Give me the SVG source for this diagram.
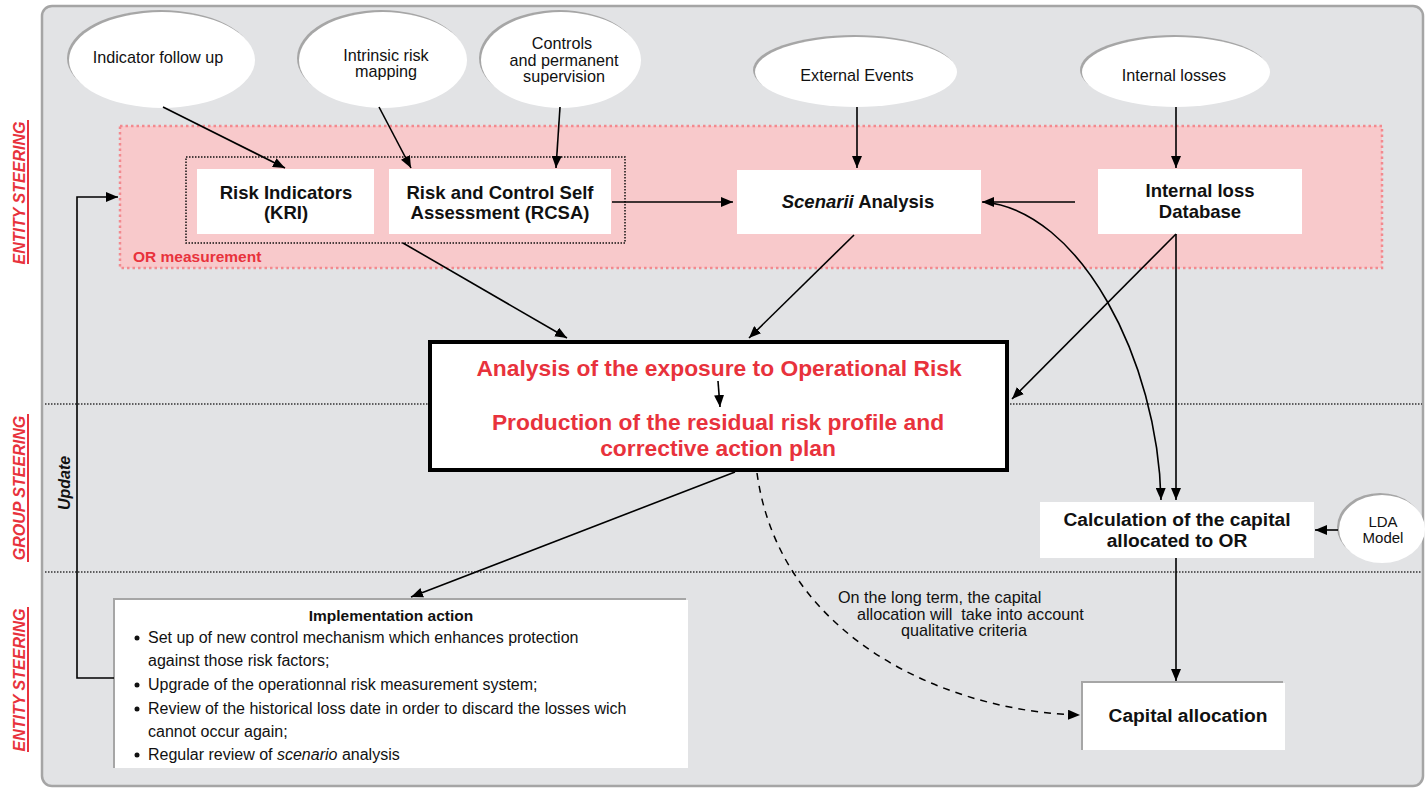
<svg xmlns="http://www.w3.org/2000/svg" width="1426" height="789" viewBox="0 0 1426 789">
<defs>
<style>
text{font-family:"Liberation Sans",Arial,Helvetica,sans-serif;fill:#111}
.reg{font-size:16.2px}
.bold{font-size:18.5px;font-weight:bold}
.bold2{font-size:19.2px;font-weight:bold}
.red{font-size:22.8px;font-weight:bold;fill:#e8323c}
.side{font-size:16px;font-weight:bold;font-style:italic;fill:#e8323c}
.imp{font-size:16px}
.box{fill:#fff}
.shadow{fill:#a6a6a6}
.conn{fill:none;stroke:#000;stroke-width:1.6}
.dash{fill:none;stroke:#000;stroke-width:1.5;stroke-dasharray:7,6}
.sep{fill:none;stroke:#333;stroke-width:1.3;stroke-dasharray:1.5,1.5}
</style>
<marker id="ah" viewBox="0 0 12 10" refX="12" refY="5" markerWidth="12" markerHeight="10" markerUnits="userSpaceOnUse" orient="auto"><path d="M0,0 L12,5 L0,10 z" fill="#000"/></marker>
</defs>

<!-- background panel -->
<rect x="42" y="6" width="1381" height="780" rx="10" fill="#e2e3e5" stroke="#a5a5a5" stroke-width="2.5"/>

<!-- side labels -->
<g id="side-labels">
<text class="side" transform="translate(25,193) rotate(-90)" text-anchor="middle">ENTITY STEERING</text>
<line x1="28" y1="120" x2="28" y2="264" stroke="#e8323c" stroke-width="2"/>
<text class="side" transform="translate(25,488) rotate(-90)" text-anchor="middle">GROUP STEERING</text>
<line x1="28" y1="414" x2="28" y2="562" stroke="#e8323c" stroke-width="2"/>
<text class="side" transform="translate(25,680) rotate(-90)" text-anchor="middle">ENTITY STEERING</text>
<line x1="28" y1="607" x2="28" y2="752" stroke="#e8323c" stroke-width="2"/>
</g>

<!-- separators -->
<g id="separators">
<line class="sep" x1="45" y1="404" x2="428" y2="404"/>
<line class="sep" x1="1010" y1="404" x2="1422" y2="404"/>
<line class="sep" x1="45" y1="572" x2="1422" y2="572"/>
</g>

<!-- OR measurement area -->
<g id="or-measurement">
<rect x="120" y="126" width="1262" height="142" fill="#f8c9cb" stroke="#f28a8f" stroke-width="2.5" stroke-dasharray="2.5,3"/>
<text x="133" y="262" style="font-size:15.5px;font-weight:bold;fill:#e8323c">OR measurement</text>
<rect x="186" y="157" width="439" height="86" fill="none" stroke="#111" stroke-width="1.5" stroke-dasharray="1.5,1.5"/>
</g>

<!-- ellipses -->
<g id="indicator-follow-up">
<ellipse cx="160" cy="58" rx="93" ry="48" class="shadow"/>
<ellipse cx="162" cy="60" rx="93" ry="48" class="box"/>
<text class="reg" x="158" y="63" text-anchor="middle">Indicator follow up</text>
</g>
<g id="intrinsic-risk-mapping">
<ellipse cx="381" cy="58" rx="84" ry="48" class="shadow"/>
<ellipse cx="383" cy="60" rx="84" ry="48" class="box"/>
<text class="reg" x="386" y="61" text-anchor="middle">Intrinsic risk</text>
<text class="reg" x="386" y="77" text-anchor="middle">mapping</text>
</g>
<g id="controls">
<ellipse cx="559" cy="58" rx="80" ry="48" class="shadow"/>
<ellipse cx="561" cy="60" rx="80" ry="48" class="box"/>
<text class="reg" x="562" y="49" text-anchor="middle">Controls</text>
<text class="reg" x="564" y="66" text-anchor="middle">and permanent</text>
<text class="reg" x="564" y="82" text-anchor="middle">supervision</text>
</g>
<g id="external-events">
<ellipse cx="854" cy="70" rx="101" ry="35" class="shadow"/>
<ellipse cx="856" cy="72" rx="101" ry="35" class="box"/>
<text class="reg" x="857" y="81" text-anchor="middle">External Events</text>
</g>
<g id="internal-losses">
<ellipse cx="1174" cy="70" rx="94" ry="35" class="shadow"/>
<ellipse cx="1176" cy="72" rx="94" ry="35" class="box"/>
<text class="reg" x="1174" y="81" text-anchor="middle">Internal losses</text>
</g>
<g id="lda-model">
<ellipse cx="1380" cy="527" rx="43" ry="34" class="shadow"/>
<ellipse cx="1382" cy="529" rx="43" ry="34" class="box"/>
<text x="1383" y="527" text-anchor="middle" style="font-size:15px">LDA</text>
<text x="1383" y="543" text-anchor="middle" style="font-size:15px">Model</text>
</g>

<!-- boxes -->
<g id="kri">
<rect x="197" y="169" width="177" height="65" class="box"/>
<text class="bold" x="286" y="199" text-anchor="middle">Risk Indicators</text>
<text class="bold" x="286" y="219" text-anchor="middle">(KRI)</text>
</g>
<g id="rcsa">
<rect x="389" y="169" width="222" height="65" class="box"/>
<text class="bold" x="500" y="199" text-anchor="middle">Risk and Control Self</text>
<text class="bold" x="500" y="219" text-anchor="middle">Assessment (RCSA)</text>
</g>
<g id="scenarii">
<rect x="737" y="170" width="244" height="64" class="box"/>
<text class="bold" x="858" y="208" text-anchor="middle"><tspan font-style="italic">Scenarii</tspan> Analysis</text>
</g>
<g id="internal-loss-db">
<rect x="1098" y="169" width="204" height="65" class="box"/>
<text class="bold" x="1200" y="197" text-anchor="middle">Internal loss</text>
<text class="bold" x="1200" y="218" text-anchor="middle">Database</text>
</g>
<g id="analysis">
<rect x="430" y="342" width="577" height="128" fill="#fff" stroke="#000" stroke-width="4"/>
<text class="red" x="719" y="376" text-anchor="middle">Analysis of the exposure to Operational Risk</text>
<line x1="718" y1="381" x2="720" y2="407" stroke="#000" stroke-width="1.6" marker-end="url(#ah)"/>
<text class="red" x="718" y="430" text-anchor="middle">Production of the residual risk profile and</text>
<text class="red" x="718" y="456" text-anchor="middle">corrective action plan</text>
</g>
<g id="calculation">
<rect x="1040" y="502" width="274" height="56" class="box"/>
<text class="bold2" x="1177" y="526" text-anchor="middle">Calculation of the capital</text>
<text class="bold2" x="1177" y="547" text-anchor="middle">allocated to OR</text>
</g>
<g id="capital-allocation">
<rect x="1081" y="681" width="202" height="69" class="shadow"/>
<rect x="1083" y="683" width="202" height="67" class="box"/>
<text class="bold2" x="1188" y="722" text-anchor="middle">Capital allocation</text>
</g>
<g id="implementation">
<rect x="113" y="598" width="573" height="170" class="shadow"/>
<rect x="115" y="600" width="573" height="168" class="box"/>
<text x="391" y="621" text-anchor="middle" style="font-size:15.5px;font-weight:bold">Implementation action</text>
<circle cx="137" cy="638" r="2.5" fill="#111"/>
<text class="imp" x="148" y="643">Set up of new control mechanism which enhances protection</text>
<text class="imp" x="148" y="666">against those risk factors;</text>
<circle cx="137" cy="685" r="2.5" fill="#111"/>
<text class="imp" x="148" y="690">Upgrade of the operationnal risk measurement system;</text>
<circle cx="137" cy="709" r="2.5" fill="#111"/>
<text class="imp" x="148" y="714">Review of the historical loss date in order to discard the losses wich</text>
<text class="imp" x="148" y="737">cannot occur again;</text>
<circle cx="137" cy="755" r="2.5" fill="#111"/>
<text class="imp" x="148" y="760">Regular review of <tspan font-style="italic">scenario</tspan> analysis</text>
</g>

<!-- connectors -->
<g id="connectors">
<line class="conn" x1="163" y1="107" x2="285" y2="168" marker-end="url(#ah)"/>
<line class="conn" x1="379" y1="107" x2="411" y2="168" marker-end="url(#ah)"/>
<line class="conn" x1="560" y1="107" x2="556" y2="168" marker-end="url(#ah)"/>
<line class="conn" x1="857" y1="107" x2="857" y2="168" marker-end="url(#ah)"/>
<line class="conn" x1="1176" y1="107" x2="1176" y2="168" marker-end="url(#ah)"/>
<line class="conn" x1="612" y1="202" x2="733" y2="202" marker-end="url(#ah)"/>
<line class="conn" x1="1075" y1="202" x2="982" y2="202" marker-end="url(#ah)"/>
<path class="conn" d="M983,202 C1080,210 1158,360 1161,500" marker-end="url(#ah)"/>
<line class="conn" x1="1176" y1="234" x2="1176" y2="500" marker-end="url(#ah)"/>
<line class="conn" x1="1176" y1="234" x2="1012" y2="399" marker-end="url(#ah)"/>
<line class="conn" x1="403" y1="243" x2="567" y2="338" marker-end="url(#ah)"/>
<line class="conn" x1="854" y1="235" x2="749" y2="338" marker-end="url(#ah)"/>
<line class="conn" x1="735" y1="472" x2="411" y2="597" marker-end="url(#ah)"/>
<path class="dash" d="M757,473 C780,640 950,712 1080,715" marker-end="url(#ah)"/>
<line class="conn" x1="1176" y1="558" x2="1176" y2="681" marker-end="url(#ah)"/>
<line class="conn" x1="1338" y1="530" x2="1315" y2="530" marker-end="url(#ah)"/>
<path class="conn" d="M114,678 H77 V197 H118" marker-end="url(#ah)"/>
<text transform="translate(70,483) rotate(-90)" text-anchor="middle" style="font-size:16px;font-weight:bold;font-style:italic">Update</text>
<text class="reg" x="838" y="603">On the long term, the capital</text>
<text class="reg" x="857" y="620">allocation will&#160; take into account</text>
<text class="reg" x="901" y="636">qualitative criteria</text>
</g>
</svg>
